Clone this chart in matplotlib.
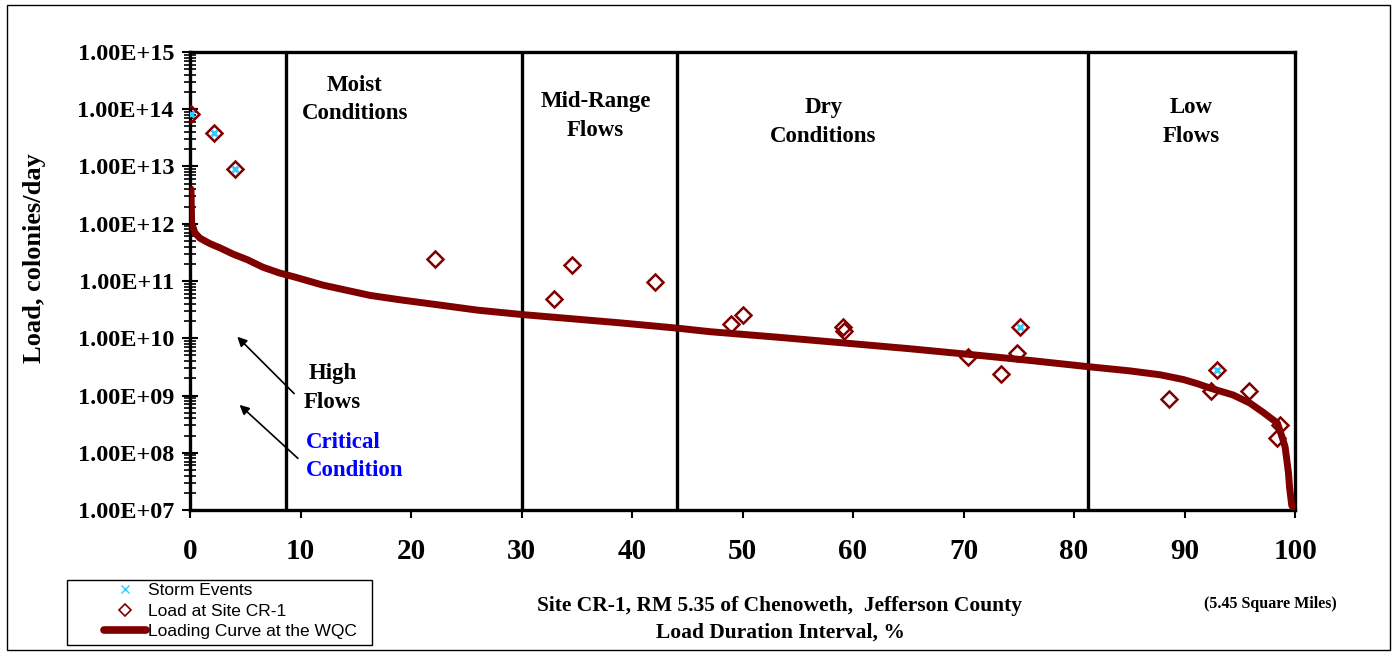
import numpy as np
import matplotlib
matplotlib.use('Agg')
import matplotlib.pyplot as plt
from matplotlib.ticker import FuncFormatter, LogLocator, NullFormatter
from matplotlib.patches import Rectangle
from matplotlib.lines import Line2D

# Loading curve at the WQC
curve_x = [0.0, 0.09, 0.15, 0.45, 0.9, 1.8, 2.7, 3.9, 5.2, 6.6, 8.1, 9.5, 12.0,
           16.3, 19.0, 22.6, 26.0, 30.0, 38.9, 44.1, 47.1, 53.0, 59.1, 65.0,
           70.6, 76.0, 81.2, 85.0, 87.8, 89.9, 91.2, 92.3, 94.4, 95.9, 97.1,
           98.4, 98.9, 99.1, 99.4, 99.5, 99.7, 100.0]
curve_y = [4.2e12, 4.0e12, 1.02e12, 6.9e11, 5.6e11, 4.5e11, 3.8e11, 2.95e11,
           2.35e11, 1.74e11, 1.38e11, 1.17e11, 8.5e10, 5.6e10, 4.7e10, 3.8e10,
           3.1e10, 2.6e10, 1.86e10, 1.5e10, 1.3e10, 1.05e10, 8.3e9, 6.6e9,
           5.2e9, 4.1e9, 3.2e9, 2.7e9, 2.3e9, 1.9e9, 1.6e9, 1.35e9, 1.02e9,
           7.4e8, 5.1e8, 3.3e8, 1.7e8, 1.26e8, 4.5e7, 2.5e7, 1.2e7, 1.0e7]

# Load at Site CR-1
load_x = [0.1, 2.2, 4.1, 22.2, 32.9, 34.6, 42.1, 49.0, 50.0, 59.1, 59.2,
          70.4, 73.4, 74.8, 75.1, 88.6, 92.4, 92.9, 95.8, 98.6, 98.4]
load_y = [8.3e13, 3.9e13, 9.1e12, 2.4e11, 4.8e10, 1.9e11, 9.5e10, 1.8e10,
          2.5e10, 1.6e10, 1.35e10, 4.7e9, 2.4e9, 5.6e9, 1.6e10, 8.6e8, 1.2e9,
          2.8e9, 1.2e9, 3.0e8, 1.8e8]

# Storm events
storm_x = [0.1, 2.2, 4.1, 75.1, 92.9]
storm_y = [8.3e13, 3.9e13, 9.1e12, 1.6e10, 2.8e9]

# flow regime boundaries and labels
bounds = [8.7, 30.0, 44.1, 81.3]
zone_labels = ['Moist\nConditions', 'Mid-Range\nFlows', 'Dry\nConditions', 'Low\nFlows']
zone_x = [14.9, 36.7, 57.3, 90.6]
zone_y = [1.5e14, 7.6e13, 6.0e13, 6.0e13]

serif = 'Liberation Serif'
dark_red = '#800000'
storm_col = '#33CCFF'

fig = plt.figure(figsize=(13.96, 6.57), dpi=100)
ax = fig.add_axes([0.1361, 0.2237, 0.7916, 0.6972])

ax.plot(curve_x, curve_y, color=dark_red, lw=5, solid_capstyle='butt',
        solid_joinstyle='round', zorder=3)
ax.plot(load_x, load_y, ls='none', marker='D', ms=8, mfc='none', mec=dark_red,
        mew=1.8, zorder=4)
ax.plot(storm_x, storm_y, ls='none', marker='x', ms=5, mec=storm_col, mew=2,
        zorder=5)

for b in bounds:
    ax.axvline(b, color='black', lw=2.4, zorder=2)

for lab, x, y in zip(zone_labels, zone_x, zone_y):
    ax.text(x, y, lab, ha='center', va='center', fontsize=16.5, fontweight='bold',
            family=serif, linespacing=1.45)

ax.text(12.9, 1.35e9, 'High\nFlows', ha='center', va='center', fontsize=16.5,
        fontweight='bold', family=serif, linespacing=1.45)
ax.text(10.5, 8.6e7, 'Critical\nCondition', ha='left', va='center', fontsize=16.5,
        fontweight='bold', family=serif, linespacing=1.45, color='#0000FF')

arrow = dict(arrowstyle='-|>', color='black', lw=1.2, mutation_scale=14)
ax.annotate('', xy=(4.1, 1.15e10), xytext=(9.6, 1.0e9), arrowprops=arrow)
ax.annotate('', xy=(4.3, 7.4e8), xytext=(9.95, 7.4e7), arrowprops=arrow)

ax.set_yscale('log')
ax.set_xlim(0, 100)
ax.set_ylim(1e7, 1e15)
ax.set_xticks(np.arange(0, 101, 10))
ax.yaxis.set_major_locator(LogLocator(base=10, numticks=20))
ax.yaxis.set_minor_locator(LogLocator(base=10, subs=np.arange(2, 10), numticks=20))
ax.yaxis.set_minor_formatter(NullFormatter())
ax.yaxis.set_major_formatter(FuncFormatter(lambda v, p: f'{v:.2E}'))

ax.tick_params(axis='x', direction='out', length=6, width=1.5, pad=14)
ax.tick_params(axis='y', which='major', direction='inout', length=11, width=1.5, pad=6)
ax.tick_params(axis='y', which='minor', direction='inout', length=8, width=1.2)
for lbl in ax.get_xticklabels():
    lbl.set_fontfamily(serif)
    lbl.set_fontweight('bold')
    lbl.set_fontsize(21)
for lbl in ax.get_yticklabels():
    lbl.set_fontfamily(serif)
    lbl.set_fontweight('bold')
    lbl.set_fontsize(17.5)
for s in ax.spines.values():
    s.set_linewidth(2.4)

fig.text(0.025, 0.607, 'Load, colonies/day', rotation=90, ha='center', va='center',
         fontsize=19, fontweight='bold', family=serif)
fig.text(0.5587, 0.0776, 'Site CR-1, RM 5.35 of Chenoweth,  Jefferson County',
         ha='center', va='center', fontsize=15.5, fontweight='bold', family=serif)
fig.text(0.5587, 0.0365, 'Load Duration Interval, %', ha='center', va='center',
         fontsize=15.5, fontweight='bold', family=serif)
fig.text(0.9097, 0.0807, '(5.45 Square Miles)', ha='center', va='center',
         fontsize=11.5, fontweight='bold', family=serif)

# legend: frame drawn separately so the handles sit where the original has them
handles = [Line2D([], [], ls='none', marker='x', ms=6, mec=storm_col, mew=1),
           Line2D([], [], ls='none', marker='D', ms=6, mfc='none', mec=dark_red, mew=1.2),
           Line2D([], [], color=dark_red, lw=5.5, solid_capstyle='round')]
labels = ['Storm Events', 'Load at Site CR-1', 'Loading Curve at the WQC']
leg = fig.legend(handles, labels, loc='lower left', bbox_to_anchor=(0.072, 0.022),
                 frameon=False, prop={'family': 'Liberation Sans', 'size': 12.5},
                 handlelength=2.4, borderpad=0.2, labelspacing=0.3,
                 handletextpad=0.15, borderaxespad=0)
fig.patches.append(Rectangle((0.048, 0.0183), 0.2185, 0.0990, transform=fig.transFigure,
                             fill=False, edgecolor='black', lw=1))

fig.patches.append(Rectangle((0.005, 0.0107), 0.9907, 0.9813, transform=fig.transFigure,
                             fill=False, edgecolor='black', lw=1))

fig.savefig('out.png', dpi=100)
